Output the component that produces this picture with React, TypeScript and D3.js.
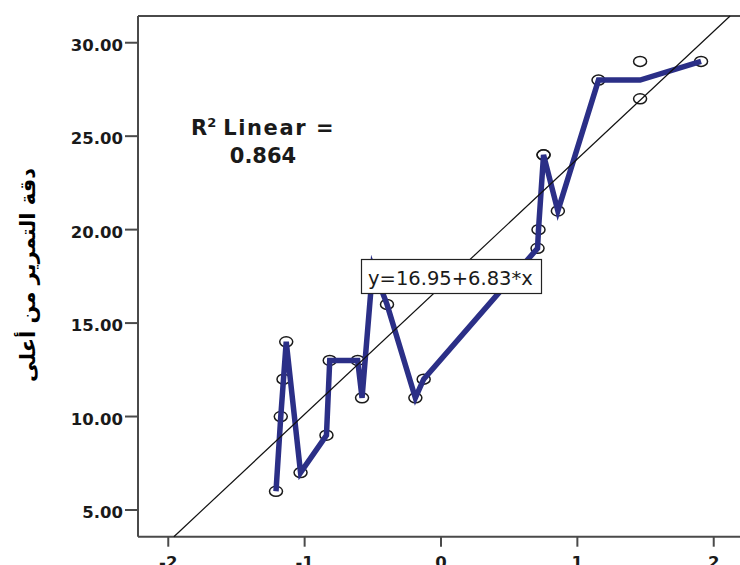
import React from "react";
import * as d3 from "d3";

// Data
const xValues = [-1.21, -1.175, -1.155, -1.135, -1.03, -0.84, -0.816, -0.611, -0.579, -0.5, -0.396, -0.188, -0.127, 0.708, 0.715, 0.752, 0.752, 0.857, 1.155, 1.46, 1.46, 1.907];
const yValues = [6, 10, 12, 14, 7, 9, 13, 13, 11, 18, 16, 11, 12, 19, 20, 24, 24, 21, 28, 29, 27, 29];
const xTicks = [-2, -1, 0, 1, 2];
const yTicks = [5, 10, 15, 20, 25, 30];
const intercept = 16.95;
const slope = 6.83;
const rSquared = "0.864";
const yTitle = "دقة التمرير من أعلى";

const W = 740;
const H = 565;
const xDomain: [number, number] = [-2.222, 2.222];
const yDomain: [number, number] = [3.57, 31.43];

export default function App() {
  const x = d3.scaleLinear().domain(xDomain).range([138, 744]);
  const y = d3.scaleLinear().domain(yDomain).range([536.7, 16]);

  const points = xValues.map((v, i) => ({ x: v, y: yValues[i] }));
  const means = Array.from(
    d3.rollup(points, (g) => d3.mean(g, (d) => d.y) as number, (d) => d.x),
    ([k, v]) => ({ x: k, y: v })
  ).sort((a, b) => a.x - b.x);

  const line = d3
    .line<{ x: number; y: number }>()
    .x((d) => x(d.x))
    .y((d) => y(d.y));

  const rx1 = (yDomain[0] - intercept) / slope;
  const rx2 = (yDomain[1] - intercept) / slope;

  const axisColor = "#4a4a4a";
  const font = "'DejaVu Sans', Verdana, sans-serif";

  return (
    <svg
      width={W}
      height={H}
      style={{ position: "absolute", left: 0, top: 0, background: "#fff" }}
    >
      <rect x={0} y={0} width={W} height={H} fill="#fff" />
      {/* frame */}
      <line x1={x(xDomain[0])} x2={x(xDomain[1])} y1={y(yDomain[1])} y2={y(yDomain[1])} stroke={axisColor} strokeWidth={2} />
      <line x1={x(xDomain[0])} x2={x(xDomain[0])} y1={y(yDomain[1])} y2={y(yDomain[0])} stroke={axisColor} strokeWidth={2} />
      <line x1={x(xDomain[0])} x2={x(xDomain[1])} y1={y(yDomain[0])} y2={y(yDomain[0])} stroke={axisColor} strokeWidth={2} />
      <line x1={x(xDomain[1])} x2={x(xDomain[1])} y1={y(yDomain[1])} y2={y(yDomain[0])} stroke={axisColor} strokeWidth={2} />

      {/* y ticks */}
      {yTicks.map((t) => (
        <g key={"y" + t}>
          <line x1={x(xDomain[0]) - 13} x2={x(xDomain[0])} y1={y(t)} y2={y(t)} stroke={axisColor} strokeWidth={2} />
          <text
            x={x(xDomain[0]) - 15}
            y={y(t) + 8}
            textAnchor="end"
            fontFamily={font}
            fontWeight="bold"
            fontSize={16.5}
            fill="#1a1a1a"
          >
            {t.toFixed(2)}
          </text>
        </g>
      ))}

      {/* x ticks */}
      {xTicks.map((t) => (
        <g key={"x" + t}>
          <line x1={x(t)} x2={x(t)} y1={y(yDomain[0])} y2={y(yDomain[0]) + 10} stroke={axisColor} strokeWidth={2} />
          <text
            x={x(t)}
            y={y(yDomain[0]) + 31}
            textAnchor="middle"
            fontFamily={font}
            fontWeight="bold"
            fontSize={16.5}
            fill="#1a1a1a"
          >
            {t}
          </text>
        </g>
      ))}

      {/* y title */}
      <text
        transform={`translate(29, 275) rotate(-90)`}
        textAnchor="middle"
        dominantBaseline="middle"
        fontFamily={font}
        fontWeight="bold"
        fontSize={21}
        fill="#000"
        direction="rtl"
      >
        {yTitle}
      </text>

      {/* points */}
      {points.map((p, i) => (
        <ellipse key={i} cx={x(p.x)} cy={y(p.y)} rx={6.5} ry={5} fill="none" stroke="#1a1a1a" strokeWidth={1.5} />
      ))}

      {/* interpolation line */}
      <path
        d={line(means) || ""}
        fill="none"
        stroke="#2b2f87"
        strokeWidth={5.5}
        strokeLinejoin="miter"
        strokeMiterlimit={5}
      />

      {/* regression line */}
      <line x1={x(rx1)} y1={y(yDomain[0])} x2={x(rx2)} y2={y(yDomain[1])} stroke="#111" strokeWidth={1.2} />

      {/* R squared */}
      <text x={191} y={135} fontFamily={font} fontWeight="bold" fontSize={21} fill="#1a1a1a">
        R
        <tspan fontSize={13} dy={-8}>2</tspan>
        <tspan dy={8} dx={7} letterSpacing={1.6}>Linear =</tspan>
      </text>
      <text x={263} y={163} textAnchor="middle" fontFamily={font} fontWeight="bold" fontSize={21} fill="#1a1a1a">
        {rSquared}
      </text>

      {/* equation box */}
      <rect x={361.5} y={259.5} width={180} height={34} fill="#fff" stroke="#222" strokeWidth={1.2} />
      <text x={368} y={285} fontFamily={font} fontSize={19.5} fill="#1a1a1a">
        {`y=${intercept}+${slope}*x`}
      </text>
    </svg>
  );
}
